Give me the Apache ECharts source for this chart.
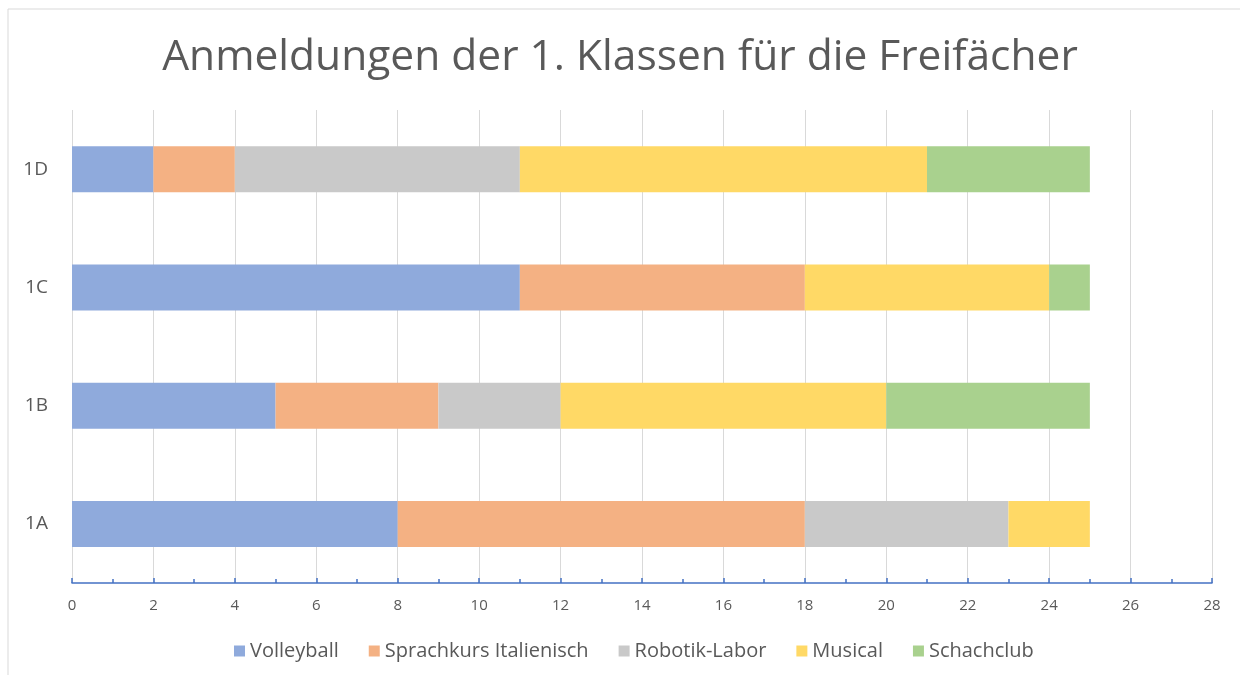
<!DOCTYPE html>
<html>
<head>
<meta charset="utf-8">
<script src="https://cdn.jsdelivr.net/npm/echarts@6/dist/echarts.min.js"></script>
<style>
  html, body { margin: 0; padding: 0; background: #fff; }
  #chart { width: 1240px; height: 675px; }
</style>
</head>
<body>
<div id="chart"></div>
<script>
// Klassen und Anmeldungen je Freifach
var klassen = ['1A', '1B', '1C', '1D'];
var volleyball = [8, 5, 11, 2];
var sprachkurs = [10, 4, 7, 2];
var robotik = [5, 3, 0, 7];
var musical = [2, 8, 6, 10];
var schachclub = [0, 5, 1, 4];

var fachNamen = ['Volleyball', 'Sprachkurs Italienisch', 'Robotik-Labor', 'Musical', 'Schachclub'];
var fachWerte = [volleyball, sprachkurs, robotik, musical, schachclub];
var farben = ['#8FAADC', '#F4B183', '#C9C9C9', '#FFD966', '#A9D18E'];

var myChart = echarts.init(document.getElementById('chart'));
var schrift = 'Open Sans';

var serien = fachNamen.map(function (name, i) {
    return {
        name: name,
        type: 'bar',
        stack: 'summe',
        barWidth: 46,
        data: fachWerte[i],
        itemStyle: { color: farben[i] }
    };
});

option = {
    animation: false,
    color: farben,
    title: {
        text: 'Anmeldungen der 1. Klassen für die Freifächer',
        left: 'center',
        top: 31,
        textStyle: { fontFamily: schrift, fontSize: 42.5, fontWeight: 'normal', color: '#595959' }
    },
    legend: {
        bottom: 9,
        left: 229,
        itemWidth: 11,
        itemHeight: 11,
        itemGap: 30,
        icon: 'rect',
        textStyle: { fontFamily: schrift, fontSize: 20, color: '#595959' }
    },
    grid: { left: 72, right: 28, top: 110, bottom: 92 },
    xAxis: {
        type: 'value',
        min: 0,
        max: 28,
        interval: 2,
        axisLine: { show: true, lineStyle: { color: '#4472C4', width: 1.5 } },
        axisTick: { show: true, inside: true, length: 5, lineStyle: { color: '#4472C4', width: 1.5 } },
        minorTick: { show: true, splitNumber: 2, length: 4, lineStyle: { color: '#4472C4', width: 1.5 } },
        splitLine: { show: true, lineStyle: { color: '#D9D9D9', width: 1 } },
        axisLabel: { fontFamily: schrift, fontSize: 15, color: '#595959', margin: 15 }
    },
    yAxis: {
        type: 'category',
        data: klassen,
        axisLine: { show: false },
        axisTick: { show: false },
        axisLabel: { fontFamily: schrift, fontSize: 19, color: '#595959', margin: 24 }
    },
    graphic: [
        { type: 'line', shape: { x1: 8, y1: 9, x2: 1240, y2: 9 }, style: { stroke: '#D9D9D9', lineWidth: 1 } },
        { type: 'line', shape: { x1: 8, y1: 9, x2: 8, y2: 675 }, style: { stroke: '#D9D9D9', lineWidth: 1 } }
    ],
    series: serien
};

myChart.setOption(option, true);
</script>
</body>
</html>
